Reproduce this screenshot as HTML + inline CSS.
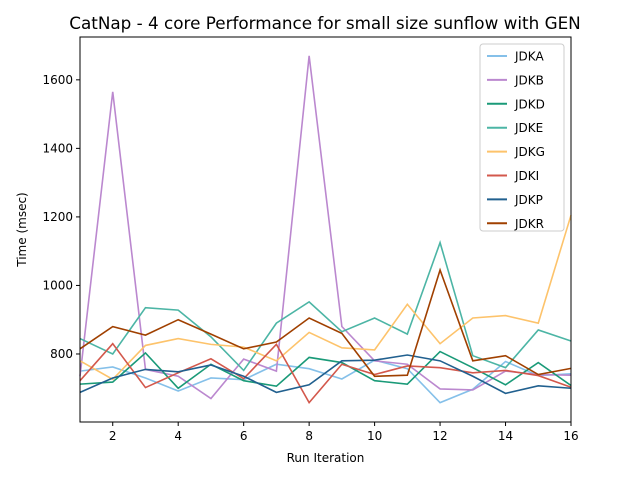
<!DOCTYPE html>
<html><head><meta charset="utf-8"><style>body{margin:0;background:#fff}svg{display:block;font-family:"DejaVu Sans","Liberation Sans",sans-serif}</style></head>
<body>
<svg id="chart" width="640" height="480" xmlns="http://www.w3.org/2000/svg"></svg>
<script>
const iterations=[1,2,3,4,5,6,7,8,9,10,11,12,13,14,15,16];
const seriesNames=["JDKA","JDKB","JDKD","JDKE","JDKG","JDKI","JDKP","JDKR"];
const JDKA=[750,762,730,692,730,725,770,757,727,782,757,658,697,778,737,742];
const JDKB=[735,1565,755,735,670,785,750,1670,880,780,770,698,695,750,740,738];
const JDKD=[712,718,803,700,770,722,706,790,775,722,712,807,760,710,775,708];
const JDKE=[845,800,935,928,850,752,890,952,865,905,858,1125,795,760,870,838];
const JDKG=[780,726,825,845,828,820,780,863,818,812,945,830,905,912,890,1205];
const JDKI=[722,830,702,745,786,728,828,658,770,740,765,760,745,752,737,703];
const JDKP=[688,730,755,748,768,735,688,710,780,782,797,780,735,685,707,700];
const JDKR=[815,880,855,900,858,815,835,905,860,735,738,1045,780,795,740,758];
const yTicks=[800,1000,1200,1400,1600];
const xTicks=[2,4,6,8,10,12,14,16];
const colors=["#85c0e9","#bb88cf","#1a9a78","#4cb5a5","#fdc36b","#d3584c","#21608f","#a04000"];
const allSeries=[JDKA,JDKB,JDKD,JDKE,JDKG,JDKI,JDKP,JDKR];
const L=80,R=571,T=37,B=422,ymin=601.5,ymax=1725;
const sx=v=>L+(v-1)/15*(R-L);
const sy=v=>B-(v-ymin)/(ymax-ymin)*(B-T);
const svg=document.getElementById('chart');
const NS="http://www.w3.org/2000/svg";
function mk(t,a,p){const e=document.createElementNS(NS,t);for(const k in a)e.setAttribute(k,a[k]);(p||svg).appendChild(e);return e;}
let t=mk('text',{x:325,y:29,'text-anchor':'middle','font-size':16.8,fill:'#000'});t.textContent="CatNap - 4 core Performance for small size sunflow with GEN";

allSeries.forEach((s,i)=>{
  const p=mk('polyline',{points:s.map((v,j)=>sx(iterations[j])+','+sy(v)).join(' '),fill:'none',stroke:colors[i],'stroke-width':1.6});
  
  
});
const fr=mk('rect',{x:L,y:T,width:R-L,height:B-T,fill:'none',stroke:'#000','stroke-width':1});

yTicks.forEach(v=>{const y=sy(v);mk('line',{x1:L-4,x2:L,y1:y,y2:y,stroke:'#000'});
  const tt=mk('text',{x:L-7,y:y+4,'text-anchor':'end','font-size':12});tt.textContent=v;
  });
xTicks.forEach(v=>{const x=sx(v);mk('line',{x1:x,x2:x,y1:B,y2:B+4,stroke:'#000'});
  const tt=mk('text',{x:x,y:B+18,'text-anchor':'middle','font-size':12});tt.textContent=v;
  });
t=mk('text',{x:(L+R)/2,y:462,'text-anchor':'middle','font-size':12});t.textContent="Run Iteration";

t=mk('text',{x:26,y:(T+B)/2,'text-anchor':'middle','font-size':12,transform:'rotate(-90 26 '+((T+B)/2)+')'});t.textContent="Time (msec)";

const lg=mk('g',{});
mk('rect',{x:480,y:44,width:84,height:187,rx:3,fill:'#fff','fill-opacity':0.8,stroke:'#ccc'},lg);
seriesNames.forEach((n,i)=>{const y=56+i*23.9;
  const g=mk('g',{},lg);
  mk('line',{x1:487,x2:507,y1:y,y2:y,stroke:colors[i],'stroke-width':2},g);
  const tt=mk('text',{x:515,y:y+4.5,'font-size':12},g);tt.textContent=n;});
</script>
</body></html>
